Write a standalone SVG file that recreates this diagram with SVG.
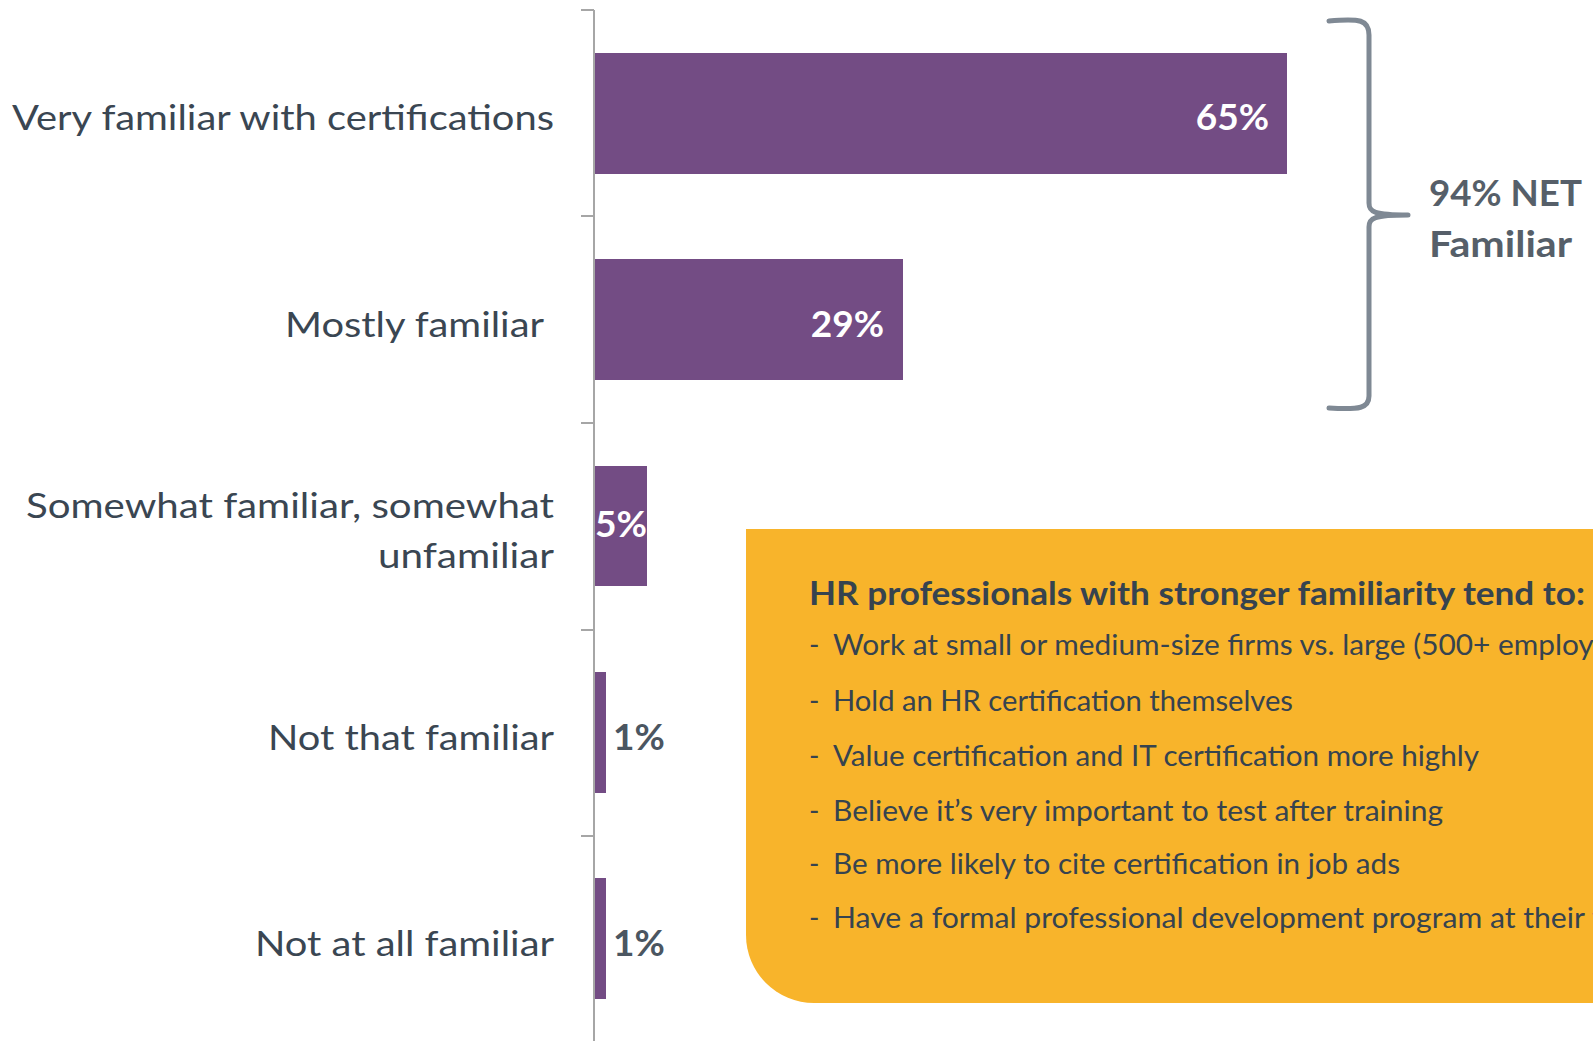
<svg xmlns="http://www.w3.org/2000/svg" width="1593" height="1041" viewBox="0 0 1593 1041">
<style>
.lbl{font-family:Lato,"Open Sans","Liberation Sans",sans-serif;font-size:35px;fill:#3a4652;text-anchor:end}
.pin{font-family:Lato,"Open Sans","Liberation Sans",sans-serif;font-size:37px;font-weight:bold;fill:#ffffff}
.pout{font-family:Lato,"Open Sans","Liberation Sans",sans-serif;font-size:37px;font-weight:bold;fill:#4b5661}
.bar{fill:#734c84}
.tick{stroke:#a6a6a6;stroke-width:2}
.net{font-family:Lato,"Open Sans","Liberation Sans",sans-serif;font-size:37px;font-weight:bold;fill:#565f69}
.hd{font-family:Lato,"Open Sans","Liberation Sans",sans-serif;font-size:32px;font-weight:bold;fill:#36434f}
.bl{font-family:Lato,"Open Sans","Liberation Sans",sans-serif;font-size:28px;fill:#36434f}
</style>
<rect width="1593" height="1041" fill="#ffffff"/>
<g id="axis">
<line class="tick" x1="594" y1="10" x2="594" y2="1041"/>
<line class="tick" x1="581" y1="10" x2="594" y2="10"/>
<line class="tick" x1="581" y1="216" x2="594" y2="216"/>
<line class="tick" x1="581" y1="423" x2="594" y2="423"/>
<line class="tick" x1="581" y1="630" x2="594" y2="630"/>
<line class="tick" x1="581" y1="836" x2="594" y2="836"/>
</g>
<g id="row-very">
<text class="lbl" x="554" y="130" textLength="542" lengthAdjust="spacingAndGlyphs">Very familiar with certifications</text>
<rect class="bar" x="595" y="53" width="692" height="121"/>
<text class="pin" x="1269" y="130" text-anchor="end">65%</text>
</g>
<g id="row-mostly">
<text class="lbl" x="544" y="337" textLength="259" lengthAdjust="spacingAndGlyphs">Mostly familiar</text>
<rect class="bar" x="595" y="259" width="308" height="121"/>
<text class="pin" x="884" y="337" text-anchor="end">29%</text>
</g>
<g id="row-somewhat">
<text class="lbl" x="554" y="518" textLength="528" lengthAdjust="spacingAndGlyphs">Somewhat familiar, somewhat</text>
<text class="lbl" x="554" y="568" textLength="176" lengthAdjust="spacingAndGlyphs">unfamiliar</text>
<rect class="bar" x="595" y="466" width="52" height="120"/>
<text class="pin" x="595" y="537" textLength="52" lengthAdjust="spacingAndGlyphs">5%</text>
</g>
<g id="row-notthat">
<text class="lbl" x="554" y="750" textLength="286" lengthAdjust="spacingAndGlyphs">Not that familiar</text>
<rect class="bar" x="595" y="672" width="11" height="121"/>
<text class="pout" x="613" y="750">1%</text>
</g>
<g id="row-notatall">
<text class="lbl" x="554" y="956" textLength="299" lengthAdjust="spacingAndGlyphs">Not at all familiar</text>
<rect class="bar" x="595" y="878" width="11" height="121"/>
<text class="pout" x="613" y="956">1%</text>
</g>
<g id="bracket">
<path d="M1329,21 C1360,18 1369,20 1369,35 L1369,203 C1369,212 1374,215 1408,215 C1374,215 1369,218 1369,227 L1369,396 C1369,408 1360,410 1329,408" fill="none" stroke="#7f8994" stroke-width="5" stroke-linecap="round" stroke-linejoin="round"/>
<text class="net" x="1429" y="206" textLength="153" lengthAdjust="spacingAndGlyphs">94% NET</text>
<text class="net" x="1429" y="257" textLength="143" lengthAdjust="spacingAndGlyphs">Familiar</text>
</g>
<g id="callout">
<path d="M746,529 L1593,529 L1593,1003 L814,1003 A68,68 0 0 1 746,935 Z" fill="#f8b42b"/>
<text class="hd" x="809" y="605" textLength="776" lengthAdjust="spacingAndGlyphs">HR professionals with stronger familiarity tend to:</text>
<text class="bl" x="809" y="655">-</text><text class="bl" x="833" y="655" textLength="812" lengthAdjust="spacingAndGlyphs">Work at small or medium-size firms vs. large (500+ employees)</text>
<text class="bl" x="809" y="711">-</text><text class="bl" x="833" y="711" textLength="460" lengthAdjust="spacingAndGlyphs">Hold an HR certification themselves</text>
<text class="bl" x="809" y="766">-</text><text class="bl" x="833" y="766" textLength="646" lengthAdjust="spacingAndGlyphs">Value certification and IT certification more highly</text>
<text class="bl" x="809" y="821">-</text><text class="bl" x="833" y="821" textLength="610" lengthAdjust="spacingAndGlyphs">Believe it’s very important to test after training</text>
<text class="bl" x="809" y="874">-</text><text class="bl" x="833" y="874" textLength="567" lengthAdjust="spacingAndGlyphs">Be more likely to cite certification in job ads</text>
<text class="bl" x="809" y="928">-</text><text class="bl" x="833" y="928" textLength="812" lengthAdjust="spacingAndGlyphs">Have a formal professional development program at their firm</text>
</g>
</svg>
